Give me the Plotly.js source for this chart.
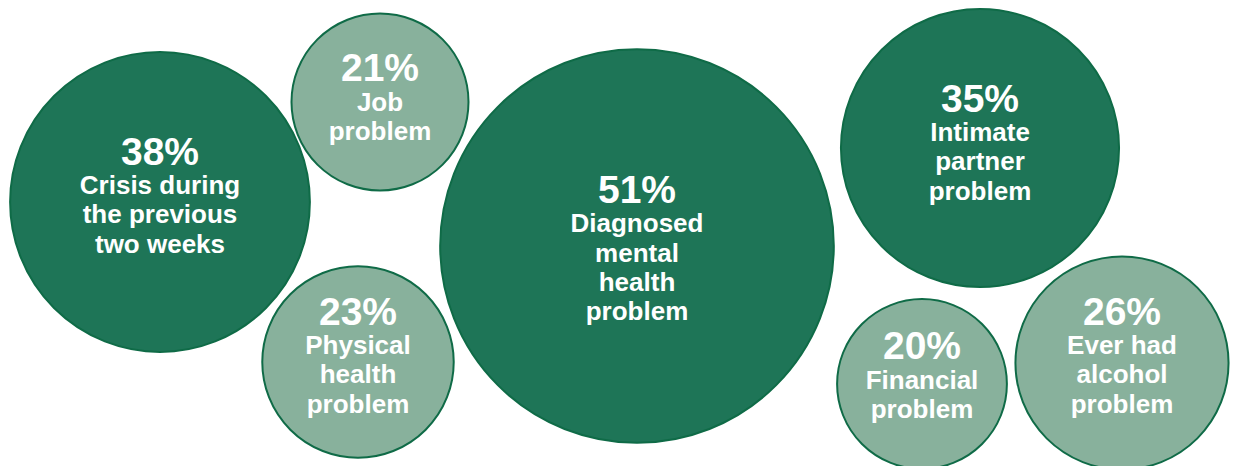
<!DOCTYPE html>
<html><head><meta charset="utf-8">
<script src="https://cdn.plot.ly/plotly-3.0.1.min.js"></script>
<style>html,body{margin:0;padding:0;background:#fff;overflow:hidden}#chart{width:1234px;height:466px;}</style>
</head><body><div id="chart"></div>
<script>
// ---- data ----
const categories = ["Crisis during the previous two weeks", "Job problem", "Physical health problem",
  "Diagnosed mental health problem", "Intimate partner problem", "Financial problem", "Ever had alcohol problem"];
const values = [38, 21, 23, 51, 35, 20, 26];
const labelLines = [
  ["Crisis during", "the previous", "two weeks"],
  ["Job", "problem"],
  ["Physical", "health", "problem"],
  ["Diagnosed", "mental", "health", "problem"],
  ["Intimate", "partner", "problem"],
  ["Financial", "problem"],
  ["Ever had", "alcohol", "problem"]
];

// ---- layout (bubble centres, text offsets, styles) ----
const posX = [160, 380, 358, 637, 980, 922, 1122];
const posY = [202, 102, 362, 246, 148, 384, 363];
const textShift = [1, 3, 1, 10, 2, -1, 0];
const DARK = "#1e7557", LIGHT = "#88b19c", EDGE = "#0f6b47";
const fills = [DARK, LIGHT, LIGHT, DARK, DARK, LIGHT, LIGHT];

// bubble diameter (px) from value
const diam = values.map(v => 2 * (13.7 + 3.61 * v) - 2);

const texts = values.map((v, i) =>
  '<span style="font-size:39px"><b>' + v + '%</b></span><br>' +
  labelLines[i].map(l => '<span style="font-size:26px"><b>' + l + '</b></span>').join('<br>'));

const bubbles = {
  type: "scatter", mode: "markers",
  x: posX, y: posY,
  marker: {size: diam, sizemode: "diameter", sizeref: 1, color: fills, opacity: 1,
           line: {color: EDGE, width: 2}},
  hoverinfo: "skip", cliponaxis: false, customdata: categories
};

const labels = {
  type: "scatter", mode: "text",
  x: posX, y: posY.map((y, i) => y + textShift[i]),
  text: texts, textposition: "middle center",
  textfont: {family: "Liberation Sans, Arial, sans-serif", size: 22.5, color: "#ffffff"},
  hoverinfo: "skip", cliponaxis: false
};

const layout = {
  width: 1234, height: 466,
  margin: {l: 0, r: 0, t: 0, b: 0},
  paper_bgcolor: "#ffffff", plot_bgcolor: "#ffffff",
  showlegend: false,
  xaxis: {range: [0, 1234], visible: false, fixedrange: true},
  yaxis: {range: [466, 0], visible: false, fixedrange: true}
};

Plotly.newPlot("chart", [bubbles, labels], layout, {displayModeBar: false, staticPlot: true});
</script>
</body></html>
